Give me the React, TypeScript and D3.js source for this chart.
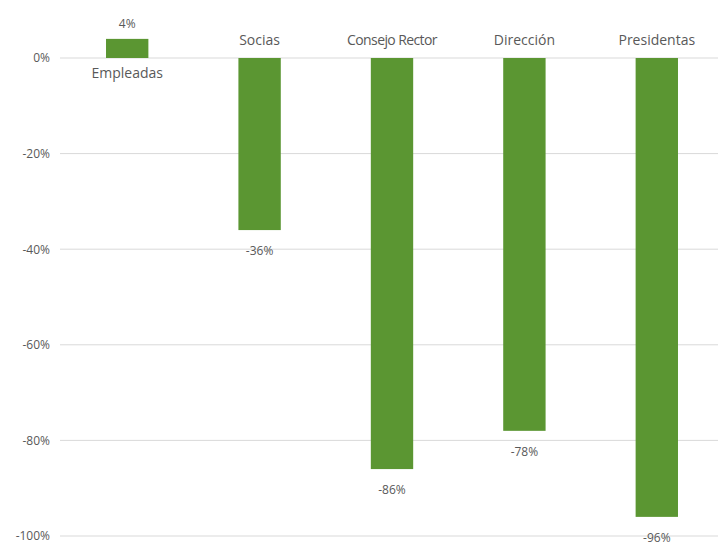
import React from "react";
import * as d3 from "d3";

const categories = ["Empleadas", "Socias", "Consejo Rector", "Dirección", "Presidentas"];
const values = [4, -36, -86, -78, -96];
const yTicks = [0, -20, -40, -60, -80, -100];

const W = 718;
const H = 543;
const BAR = "#5b9632";
const TEXT = "#595959";
const FONT = "'Open Sans', 'Noto Sans', sans-serif";

export default function App() {
  const x = d3.scaleBand<string>().domain(categories).range([61, 723]).paddingInner(0.68).paddingOuter(0.34);
  const y = d3.scaleLinear().domain([-100, 0]).range([536, 58]);
  const bw = x.bandwidth();

  return (
    <svg width={W} height={H} style={{ position: "absolute", left: 0, top: 0, background: "#fff" }}>
      {yTicks.map((t) => (
        <g key={t}>
          <line x1={60} x2={718} y1={y(t)} y2={y(t)} stroke="#d9d9d9" strokeWidth={1} />
          <text x={50} y={y(t)} dy="0.36em" textAnchor="end" fontSize={12} fill={TEXT} fontFamily={FONT}>
            {t}%
          </text>
        </g>
      ))}
      {categories.map((c, i) => {
        const v = values[i];
        const x0 = x(c)!;
        const cx = x0 + bw / 2;
        const top = y(Math.max(0, v));
        const bot = y(Math.min(0, v));
        return (
          <g key={c}>
            <rect x={x0} y={top} width={bw} height={bot - top} fill={BAR} />
            <text
              x={cx}
              y={v >= 0 ? 78 : 45}
              textAnchor="middle"
              fontSize={14}
              fill={TEXT}
              fontFamily={FONT}
              letterSpacing={c === "Consejo Rector" ? -0.6 : 0}
            >
              {c}
            </text>
            <text
              x={cx}
              y={v >= 0 ? top - 11 : bot + 25}
              textAnchor="middle"
              fontSize={12}
              fill={TEXT}
              fontFamily={FONT}
            >
              {v}%
            </text>
          </g>
        );
      })}
    </svg>
  );
}
